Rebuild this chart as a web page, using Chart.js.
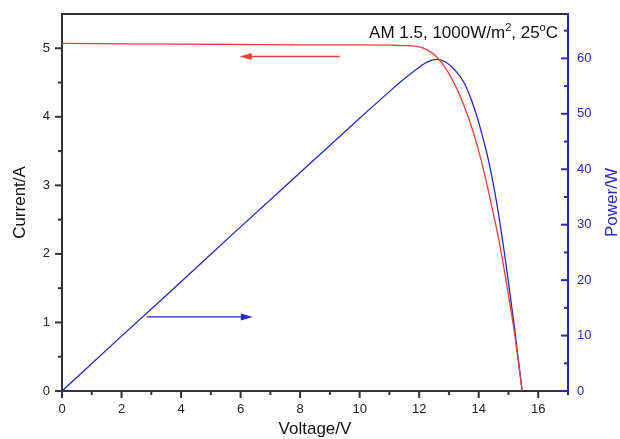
<!DOCTYPE html>
<html>
<head>
<meta charset="utf-8">
<script src="https://cdn.jsdelivr.net/npm/chart.js@4.4.1/dist/chart.umd.min.js"></script>
<style>
  html, body { margin: 0; padding: 0; background: #fff; }
  #wrap { width: 620px; height: 439px; }
</style>
</head>
<body>
<div id="wrap"><canvas id="ivChart"></canvas></div>
<script>
// I-V and P-V curve (voltage in V, current in A, power in W)
const voltage = [0, 2, 4, 6, 8, 10, 11, 11.5, 12, 12.3, 12.6, 12.9, 13.2, 13.5, 13.8, 14.1, 14.4, 14.7, 15.0, 15.2, 15.46];
const current = [5.07, 5.065, 5.06, 5.055, 5.05, 5.05, 5.045, 5.04, 5.02, 4.97, 4.87, 4.70, 4.47, 4.17, 3.80, 3.34, 2.77, 2.15, 1.40, 0.85, 0];
const power   = [0, 9.9, 19.7, 29.6, 39.4, 49.2, 54.0, 56.3, 58.4, 59.4, 59.8, 59.3, 57.9, 55.7, 51.8, 46.5, 39.8, 30.8, 19.6, 11.5, 0];

// tick labels
const xTicks = [0, 2, 4, 6, 8, 10, 12, 14, 16];
const yTicks = [0, 1, 2, 3, 4, 5];
const y2Ticks = [0, 10, 20, 30, 40, 50, 60];

// arrows: [fromV, toV, currentLevel]
const redArrow = [9.33, 5.97, 4.88];
const blueArrow = [2.85, 6.41, 1.08];

const RED = '#e6403a';
const BLUE = '#2626cc';
const AXIS = '#333333';
const FONT = "'Liberation Sans', Arial, sans-serif";

function fixTicks(list) {
  return function (scale) {
    scale.ticks = list.map(v => ({ value: v }));
  };
}

function fitSide(width) {
  return function (s) {
    s.width = width;
    s.paddingTop = 0;
    s.paddingBottom = 0;
  };
}

function drawArrow(ctx, x1, x2, y, color) {
  const dir = x2 > x1 ? 1 : -1;
  ctx.strokeStyle = color;
  ctx.fillStyle = color;
  ctx.lineWidth = 1.3;
  ctx.beginPath();
  ctx.moveTo(x1, y);
  ctx.lineTo(x2 - dir * 8, y);
  ctx.stroke();
  ctx.beginPath();
  ctx.moveTo(x2, y);
  ctx.lineTo(x2 - dir * 12, y - 3.5);
  ctx.lineTo(x2 - dir * 12, y + 3.5);
  ctx.closePath();
  ctx.fill();
}

const extras = {
  id: 'extras',
  afterDraw(chart) {
    const { ctx, chartArea: a, scales } = chart;
    const { x, y, y2 } = scales;
    ctx.save();

    // top frame line
    ctx.strokeStyle = AXIS;
    ctx.lineWidth = 2;
    ctx.beginPath();
    ctx.moveTo(a.left - 1, a.top);
    ctx.lineTo(a.right, a.top);
    ctx.stroke();

    // ticks
    ctx.lineWidth = 2;
    ctx.strokeStyle = AXIS;
    for (let v = 0; v <= 17; v += 1) {
      const px = x.getPixelForValue(v);
      const len = v % 2 === 0 ? 7 : 4;
      ctx.beginPath();
      ctx.moveTo(px, a.bottom);
      ctx.lineTo(px, a.bottom + len);
      ctx.stroke();
    }
    for (let v = 0; v <= 5.001; v += 0.5) {
      const py = y.getPixelForValue(v);
      const len = Math.abs(v - Math.round(v)) < 0.01 ? 7 : 4;
      ctx.beginPath();
      ctx.moveTo(a.left, py);
      ctx.lineTo(a.left - len, py);
      ctx.stroke();
    }
    ctx.strokeStyle = BLUE;
    for (let v = 0; v <= 65; v += 5) {
      const py = y2.getPixelForValue(v);
      const len = v % 10 === 0 ? 7 : 4;
      ctx.beginPath();
      ctx.moveTo(a.right, py);
      ctx.lineTo(a.right - len, py);
      ctx.stroke();
    }

    // arrows
    drawArrow(ctx, x.getPixelForValue(redArrow[0]), x.getPixelForValue(redArrow[1]), y.getPixelForValue(redArrow[2]), RED);
    drawArrow(ctx, x.getPixelForValue(blueArrow[0]), x.getPixelForValue(blueArrow[1]), y.getPixelForValue(blueArrow[2]), BLUE);

    // right axis title (reads bottom to top)
    ctx.fillStyle = BLUE;
    ctx.font = '17px ' + FONT;
    ctx.textAlign = 'center';
    ctx.textBaseline = 'middle';
    ctx.translate(612, (a.top + a.bottom) / 2);
    ctx.rotate(-Math.PI / 2);
    ctx.fillText('Power/W', 0, 0);
    ctx.setTransform(1, 0, 0, 1, 0, 0);
    ctx.restore();

    // condition label with superscripts
    ctx.save();
    const parts = [
      ['AM 1.5, 1000W/m', false],
      ['2', true],
      [', 25', false],
      ['o', true],
      ['C', false]
    ];
    const big = '17px ' + FONT;
    const small = '11px ' + FONT;
    let total = 0;
    parts.forEach(p => { ctx.font = p[1] ? small : big; total += ctx.measureText(p[0]).width; });
    let cx = a.right - 10 - total;
    const base = 38;
    ctx.fillStyle = '#111';
    ctx.textAlign = 'left';
    ctx.textBaseline = 'alphabetic';
    parts.forEach(p => {
      ctx.font = p[1] ? small : big;
      ctx.fillText(p[0], cx, p[1] ? base - 7 : base);
      cx += ctx.measureText(p[0]).width;
    });
    ctx.restore();
  }
};

new Chart(document.getElementById('ivChart').getContext('2d'), {
  type: 'line',
  data: {
    datasets: [
      {
        label: 'Current',
        data: voltage.map((v, i) => ({ x: v, y: current[i] })),
        borderColor: RED,
        borderWidth: 1.3,
        pointRadius: 0,
        cubicInterpolationMode: 'monotone',
        yAxisID: 'y'
      },
      {
        label: 'Power',
        data: voltage.map((v, i) => ({ x: v, y: power[i] })),
        borderColor: BLUE,
        borderWidth: 1.3,
        pointRadius: 0,
        cubicInterpolationMode: 'monotone',
        yAxisID: 'y2'
      }
    ]
  },
  options: {
    responsive: true,
    maintainAspectRatio: false,
    animation: false,
    layout: { padding: { top: 14, left: 0, right: 0, bottom: 0 } },
    plugins: {
      legend: { display: false },
      tooltip: { enabled: false }
    },
    scales: {
      x: {
        type: 'linear',
        min: 0,
        max: 17,
        afterBuildTicks: fixTicks(xTicks),
        afterFit: s => { s.height = 48; s.paddingLeft = 0; s.paddingRight = 0; },
        grid: { display: false, drawTicks: false },
        border: { display: true, color: AXIS, width: 2 },
        ticks: { color: '#222', padding: 11, font: { size: 13, family: FONT }, maxRotation: 0 },
        title: { display: true, text: 'Voltage/V', color: '#111', font: { size: 17, family: FONT }, padding: { top: 0, bottom: -1 } }
      },
      y: {
        type: 'linear',
        position: 'left',
        min: 0,
        max: 5.5,
        afterBuildTicks: fixTicks(yTicks),
        afterFit: fitSide(62),
        grid: { display: false, drawTicks: false },
        border: { display: true, color: AXIS, width: 2 },
        ticks: { color: '#222', padding: 12, font: { size: 13, family: FONT } },
        title: { display: true, text: 'Current/A', color: '#111', font: { size: 17, family: FONT }, padding: { top: 10, bottom: 0 } }
      },
      y2: {
        type: 'linear',
        position: 'right',
        min: 0,
        max: 68,
        afterBuildTicks: fixTicks(y2Ticks),
        afterFit: fitSide(52),
        grid: { display: false, drawTicks: false },
        border: { display: true, color: BLUE, width: 2 },
        ticks: { color: BLUE, padding: 9, font: { size: 13, family: FONT } }
      }
    }
  },
  plugins: [extras]
});
</script>
</body>
</html>
